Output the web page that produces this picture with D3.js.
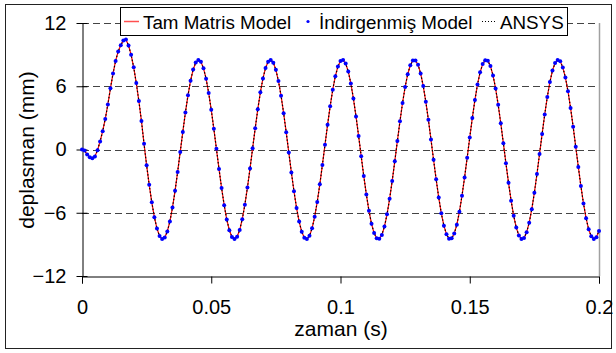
<!DOCTYPE html>
<html><head><meta charset="utf-8">
<script src="https://cdn.jsdelivr.net/npm/d3@7"></script>
<style>html,body{margin:0;padding:0;background:#fff;}svg{display:block;font-family:"Liberation Sans",Arial,sans-serif;}</style>
</head><body>
<svg id="c" width="616" height="353"></svg>
<script>
// time step (s) and displacement values (mm)
const timeStep = 0.001;
const displacement = [0,-0.1,-0.47,-0.73,-0.82,-0.66,-0.06,0.76,1.74,2.9,4.27,5.8,7.2,8.4,9.3,9.9,10.34,10.44,9.87,8.98,7.8,6.3,4.6,2.7,0.54,
-1.50,-3.34,-5.01,-6.42,-7.50,-8.21,-8.49,-8.35,-7.78,-6.82,-5.51,-3.92,-2.13,-0.23,1.67,3.50,5.14,6.53,7.58,8.25,8.50,8.32,7.71,6.72,5.37,3.77,1.96,0.06,-1.84,-3.65,-5.28,-6.64,-7.66,-8.29,-8.50,-8.28,-7.64,-6.61,-5.24,-3.61,-1.80,0.11,2.01,3.81,5.42,6.74,7.73,8.33,8.50,8.24,7.56,6.49,5.11,3.45,1.63,-0.28,-2.18,-3.96,-5.54,-6.84,-7.80,-8.36,-8.49,-8.19,-7.48,-6.39,-4.97,-3.30,-1.46,0.45,2.34,4.11,5.67,6.95,7.87,8.39,8.48,8.15,7.40,6.27,4.83,3.14,1.29,-0.63,-2.51,-4.26,-5.80,-7.05,-7.93,-8.41,-8.47,-8.10,-7.31,-6.15,-4.68,-2.98,-1.12,0.80,2.67,4.41,5.93,7.14,7.99,8.44,8.45,8.04,7.22,6.03,4.54,2.82,0.95,-0.97,-2.83,-4.56,-6.05,-7.23,-8.05,-8.46,-8.43,-7.98,-7.13,-5.91,-4.39,-2.65,-0.78,1.14,3.00,4.70,6.17,7.32,8.10,8.47,8.41,7.92,7.03,5.79,4.24,2.49,0.60,-1.31,-3.16,-4.85,-6.29,-7.41,-8.15,-8.48,-8.39,-7.86,-6.94,-5.66,-4.10,-2.32,-0.43,1.48,3.32,4.98,6.40,7.49,8.20,8.49,8.36,7.79,6.84,5.53,3.94,2.16,0.26,-1.65,-3.47,-5.12,-6.51,-7.57,-8.24,-8.50,-8.32,-7.72];
const tamMatris = displacement;
const indirgenmis = displacement;
const ansys = displacement;
const xTicks = [0, 0.05, 0.1, 0.15, 0.2];
const yTicks = [-12, -6, 0, 6, 12];
const seriesNames = ["Tam Matris Model", "İndirgenmiş Model", "ANSYS"];

const svg = d3.select("#c");
const L = 82, R = 599, T = 23, B = 276;
const x = d3.scaleLinear().domain([0, 0.2]).range([L, R]);
const y = d3.scaleLinear().domain([-12, 12]).range([B, T]);
const FT = 20, FA = 21, FL = 18.8;

// outer border
svg.append("rect").attr("x", 5.5).attr("y", 4.5).attr("width", 606).attr("height", 344)
  .attr("fill", "#fff").attr("stroke", "#222").attr("stroke-width", 1);

// gridlines
svg.append("g").selectAll("line").data(yTicks.filter(d => d !== -12)).join("line")
  .attr("x1", L).attr("x2", R).attr("y1", d => Math.round(y(d)) + 0.5).attr("y2", d => Math.round(y(d)) + 0.5)
  .attr("stroke", "#444").attr("stroke-width", 1).attr("stroke-dasharray", "7,4");
// right border
svg.append("line").attr("x1", R + 0.5).attr("x2", R + 0.5).attr("y1", T).attr("y2", B)
  .attr("stroke", "#a0a0a0").attr("stroke-width", 1.5);

// axes
const yAxis = d3.axisLeft(y).tickValues(yTicks).tickSize(0).tickPadding(16).tickFormat(d3.format("d"));
const gy = svg.append("g").attr("transform", `translate(${L + 0.5},0)`).call(yAxis);
gy.select(".domain").attr("stroke", "#000");
gy.selectAll(".tick line").attr("x1", -6).attr("x2", 5).attr("stroke", "#000");
gy.selectAll(".tick text").attr("font-size", FT).attr("fill", "#000").attr("font-family", "Liberation Sans, Arial, sans-serif");

const xAxis = d3.axisBottom(x).tickValues(xTicks).tickSize(7).tickPadding(16).tickFormat(d => d3.format("")(d));
const gx = svg.append("g").attr("transform", `translate(0,${B + 0.5})`).call(xAxis);
gx.select(".domain").attr("stroke", "#000");
gx.selectAll(".tick line").attr("stroke", "#000");
gx.selectAll(".tick text").attr("font-size", FT).attr("fill", "#000").attr("font-family", "Liberation Sans, Arial, sans-serif");

// axis titles
svg.append("text").attr("x", 341).attr("y", 336).attr("text-anchor", "middle")
  .attr("font-size", FA).text("zaman (s)");
svg.append("text").attr("transform", "translate(34,150) rotate(-90)").attr("text-anchor", "middle")
  .attr("font-size", FA).text("deplasman (mm)");

const line = d3.line().x((d, i) => x(i * timeStep)).y(d => y(d));
svg.append("path").datum(tamMatris).attr("d", line).attr("fill", "none")
  .attr("stroke", "#ff0000").attr("stroke-width", 1.2);
svg.append("path").datum(ansys).attr("d", line).attr("fill", "none")
  .attr("stroke", "#000").attr("stroke-width", 1.2).attr("stroke-dasharray", "1.5,2");
svg.append("g").selectAll("circle").data(indirgenmis).join("circle")
  .attr("cx", (d, i) => x(i * timeStep)).attr("cy", d => y(d)).attr("r", 2).attr("fill", "#0000ff");

// legend
const lg = svg.append("g");
lg.append("rect").attr("x", 120.5).attr("y", 7.5).attr("width", 447).attr("height", 28)
  .attr("fill", "#fff").attr("stroke", "#000").attr("stroke-width", 1);
const ly = 21.5;
lg.append("line").attr("x1", 124).attr("x2", 139).attr("y1", ly).attr("y2", ly).attr("stroke", "#ff5050").attr("stroke-width", 1.5);
lg.append("text").attr("x", 143).attr("y", ly + 7).attr("font-size", FL).text(seriesNames[0]);
lg.append("circle").attr("cx", 308).attr("cy", ly).attr("r", 1.6).attr("fill", "#0000ff");
lg.append("text").attr("x", 319).attr("y", ly + 7).attr("font-size", FL).text(seriesNames[1]);
lg.append("line").attr("x1", 482).attr("x2", 497).attr("y1", ly).attr("y2", ly).attr("stroke", "#000").attr("stroke-width", 1).attr("stroke-dasharray", "1,2");
lg.append("text").attr("x", 500).attr("y", ly + 7).attr("font-size", FL).text(seriesNames[2]);
</script>
</body></html>
